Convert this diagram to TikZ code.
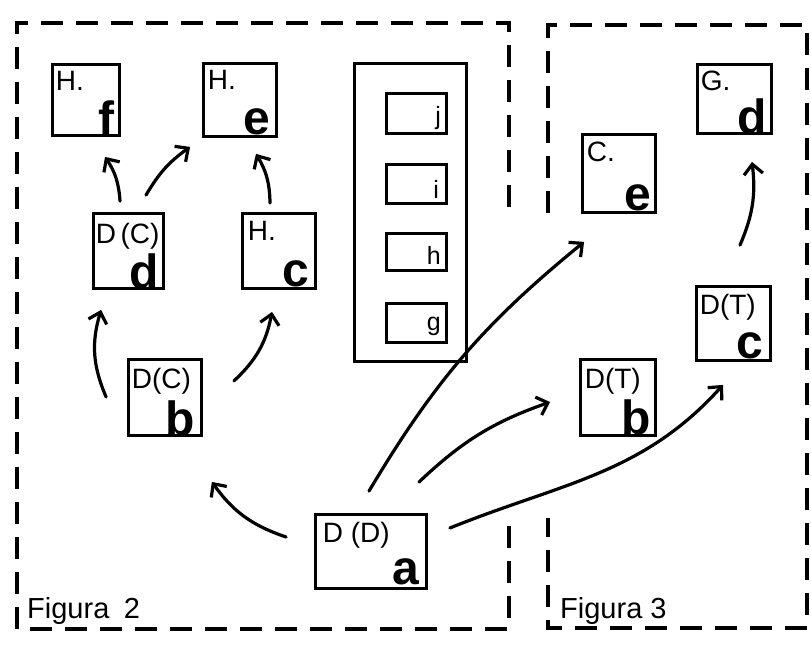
\documentclass[tikz,border=0pt]{standalone}
\usepackage{fontspec}
\setmainfont{Liberation Sans}
\usetikzlibrary{arrows.meta}
\tikzset{
  card/.style={draw,line width=3.8pt,minimum width=73pt,minimum height=75pt},
  slot/.style={draw,line width=3pt,minimum width=60pt,minimum height=39pt},
  tag/.style={inner sep=0pt,anchor=north west,font=\fontsize{28}{30}\selectfont},
  big/.style={inner sep=0pt,anchor=south east,font=\fontsize{48}{48}\selectfont\bfseries},
  small/.style={inner sep=0pt,anchor=base east,font=\fontsize{25}{26}\selectfont},
  caption/.style={inner sep=0pt,anchor=base west,font=\fontsize{29}{30}\selectfont},
  dashframe/.style={line width=3.8pt,dash pattern=on 22pt off 13pt},
  link/.style={line width=3.2pt,line cap=round,-{Straight Barb[length=10pt,width=19pt]}},
}
\begin{document}
\begin{tikzpicture}[x=1pt,y=1pt]
  \useasboundingbox (0,0) rectangle (811,-645);
  % frames
  \draw[dashframe] (509,-207) -- (509,-23) -- (17,-23) -- (17,-629) -- (509,-629) -- (509,-515);
  \draw[dashframe] (548,-213) -- (548,-25) -- (807,-25) -- (807,-628) -- (548,-628) -- (548,-518);
  \node[caption] (fig2) at (27,-618) {Figura\enspace 2};
  \node[caption] (fig3) at (560,-618) {Figura 3};

  % Figura 2
  \node[card,minimum width=67pt,minimum height=71pt] (Hf) at (86,-100) {};
  \node[tag] (Hf-t) at ([shift={(5,-8)}]Hf.north west) {H.};
  \node[big] (Hf-l) at ([shift={(-7,2)}]Hf.south east) {f};
  \node[card,minimum height=73pt] (He) at (240,-100) {};
  \node[tag] (He-t) at ([shift={(6,-8)}]He.north west) {H.};
  \node[big] (He-l) at ([shift={(-8,3)}]He.south east) {e};
  \node[card,minimum width=70pt] (Dd) at (128.5,-251) {};
  \node[tag] (Dd-t) at ([shift={(4,-11)}]Dd.north west) {D\,(C)};
  \node[big] (Dd-l) at ([shift={(-6,1)}]Dd.south east) {d};
  \node[card] (Hc) at (279,-251) {};
  \node[tag] (Hc-t) at ([shift={(7,-9)}]Hc.north west) {H.};
  \node[big] (Hc-l) at ([shift={(-8,3)}]Hc.south east) {c};
  \node[card,minimum height=76pt] (Db) at (165,-397.5) {};
  \node[tag] (Db-t) at ([shift={(5,-10)}]Db.north west) {D(C)};
  \node[big] (Db-l) at ([shift={(-8,1)}]Db.south east) {b};
  \node[card,minimum width=111pt,minimum height=74pt] (Da) at (371,-551.5) {};
  \node[tag] (Da-t) at ([shift={(9,-9)}]Da.north west) {D (D)};
  \node[big] (Da-l) at ([shift={(-9,5)}]Da.south east) {a};

  % stack of slots
  \node[draw,line width=3.8pt,minimum width=112pt,minimum height=298pt] (stack) at (410.5,-212.5) {};
  \node[slot,minimum height=40pt] (sj) at (416.5,-113.5) {};
  \node[slot] (si) at (416.5,-184) {};
  \node[slot,minimum height=37pt] (sh) at (416.5,-252) {};
  \node[slot] (sg) at (416.5,-322.5) {};
  \node[small] (sj-l) at ([shift={(-7,11)}]sj.south east) {j};
  \node[small] (si-l) at ([shift={(-9,7)}]si.south east) {i};
  \node[small] (sh-l) at ([shift={(-7,8)}]sh.south east) {h};
  \node[small] (sg-l) at ([shift={(-7,13)}]sg.south east) {g};

  % Figura 3
  \node[card,minimum height=78pt] (Ce) at (619,-173.5) {};
  \node[tag] (Ce-t) at ([shift={(6,-9)}]Ce.north west) {C.};
  \node[big] (Ce-l) at ([shift={(-6,3)}]Ce.south east) {e};
  \node[card,minimum width=74pt,minimum height=69pt] (Gd) at (734.5,-99) {};
  \node[tag] (Gd-t) at ([shift={(5,-8)}]Gd.north west) {G.};
  \node[big] (Gd-l) at ([shift={(-6,1)}]Gd.south east) {d};
  \node[card,minimum width=75pt,minimum height=76pt] (Tb) at (618,-397.5) {};
  \node[tag] (Tb-t) at ([shift={(6,-10)}]Tb.north west) {D(T)};
  \node[big] (Tb-l) at ([shift={(-6,2)}]Tb.south east) {b};
  \node[card,minimum width=74pt,minimum height=74pt] (Tc) at (733.5,-323.5) {};
  \node[tag] (Tc-t) at ([shift={(5,-9)}]Tc.north west) {D(T)};
  \node[big] (Tc-l) at ([shift={(-9,3)}]Tc.south east) {c};

  % arrows
  \draw[link] ([shift={(-8.5,10.5)}]Dd.north) to[bend right=15] ([shift={(19,-19.5)}]Hf.south);
  \draw[link] ([shift={(17.5,16.5)}]Dd.north) to[bend left=12] ([shift={(-11.5,-8.5)}]He.south west);
  \draw[link] ([shift={(-9,8.5)}]Hc.north) to[bend right=15] ([shift={(16,-15.5)}]He.south);
  \draw[link] ([shift={(-20.5,0.5)}]Db.west) to[bend left=20] ([shift={(9.5,-19.5)}]Dd.south west);
  \draw[link] ([shift={(30.5,16.5)}]Db.east) to[bend right=18] ([shift={(-7,-21.5)}]Hc.south);
  \draw[link] ([shift={(-27.5,14.5)}]Da.west) to[bend left=18] ([shift={(8.5,-44.5)}]Db.south east);
  \draw[link] ([shift={(-2,21.5)}]Da.north) to[bend left=10] ([shift={(3.5,-27.5)}]Ce.south west);
  \draw[link] ([shift={(-9.5,30.5)}]Da.north east) to[bend left=12] ([shift={(-28.5,-4.5)}]Tb.west);
  \draw[link] ([shift={(21.5,23.5)}]Da.east) to[out=22,in=228] ([shift={(-10.5,-22.5)}]Tc.south);
  \draw[link] ([shift={(6.5,39.5)}]Tc.north) to[bend right=15] ([shift={(17.5,-26.5)}]Gd.south);
\end{tikzpicture}
\end{document}
